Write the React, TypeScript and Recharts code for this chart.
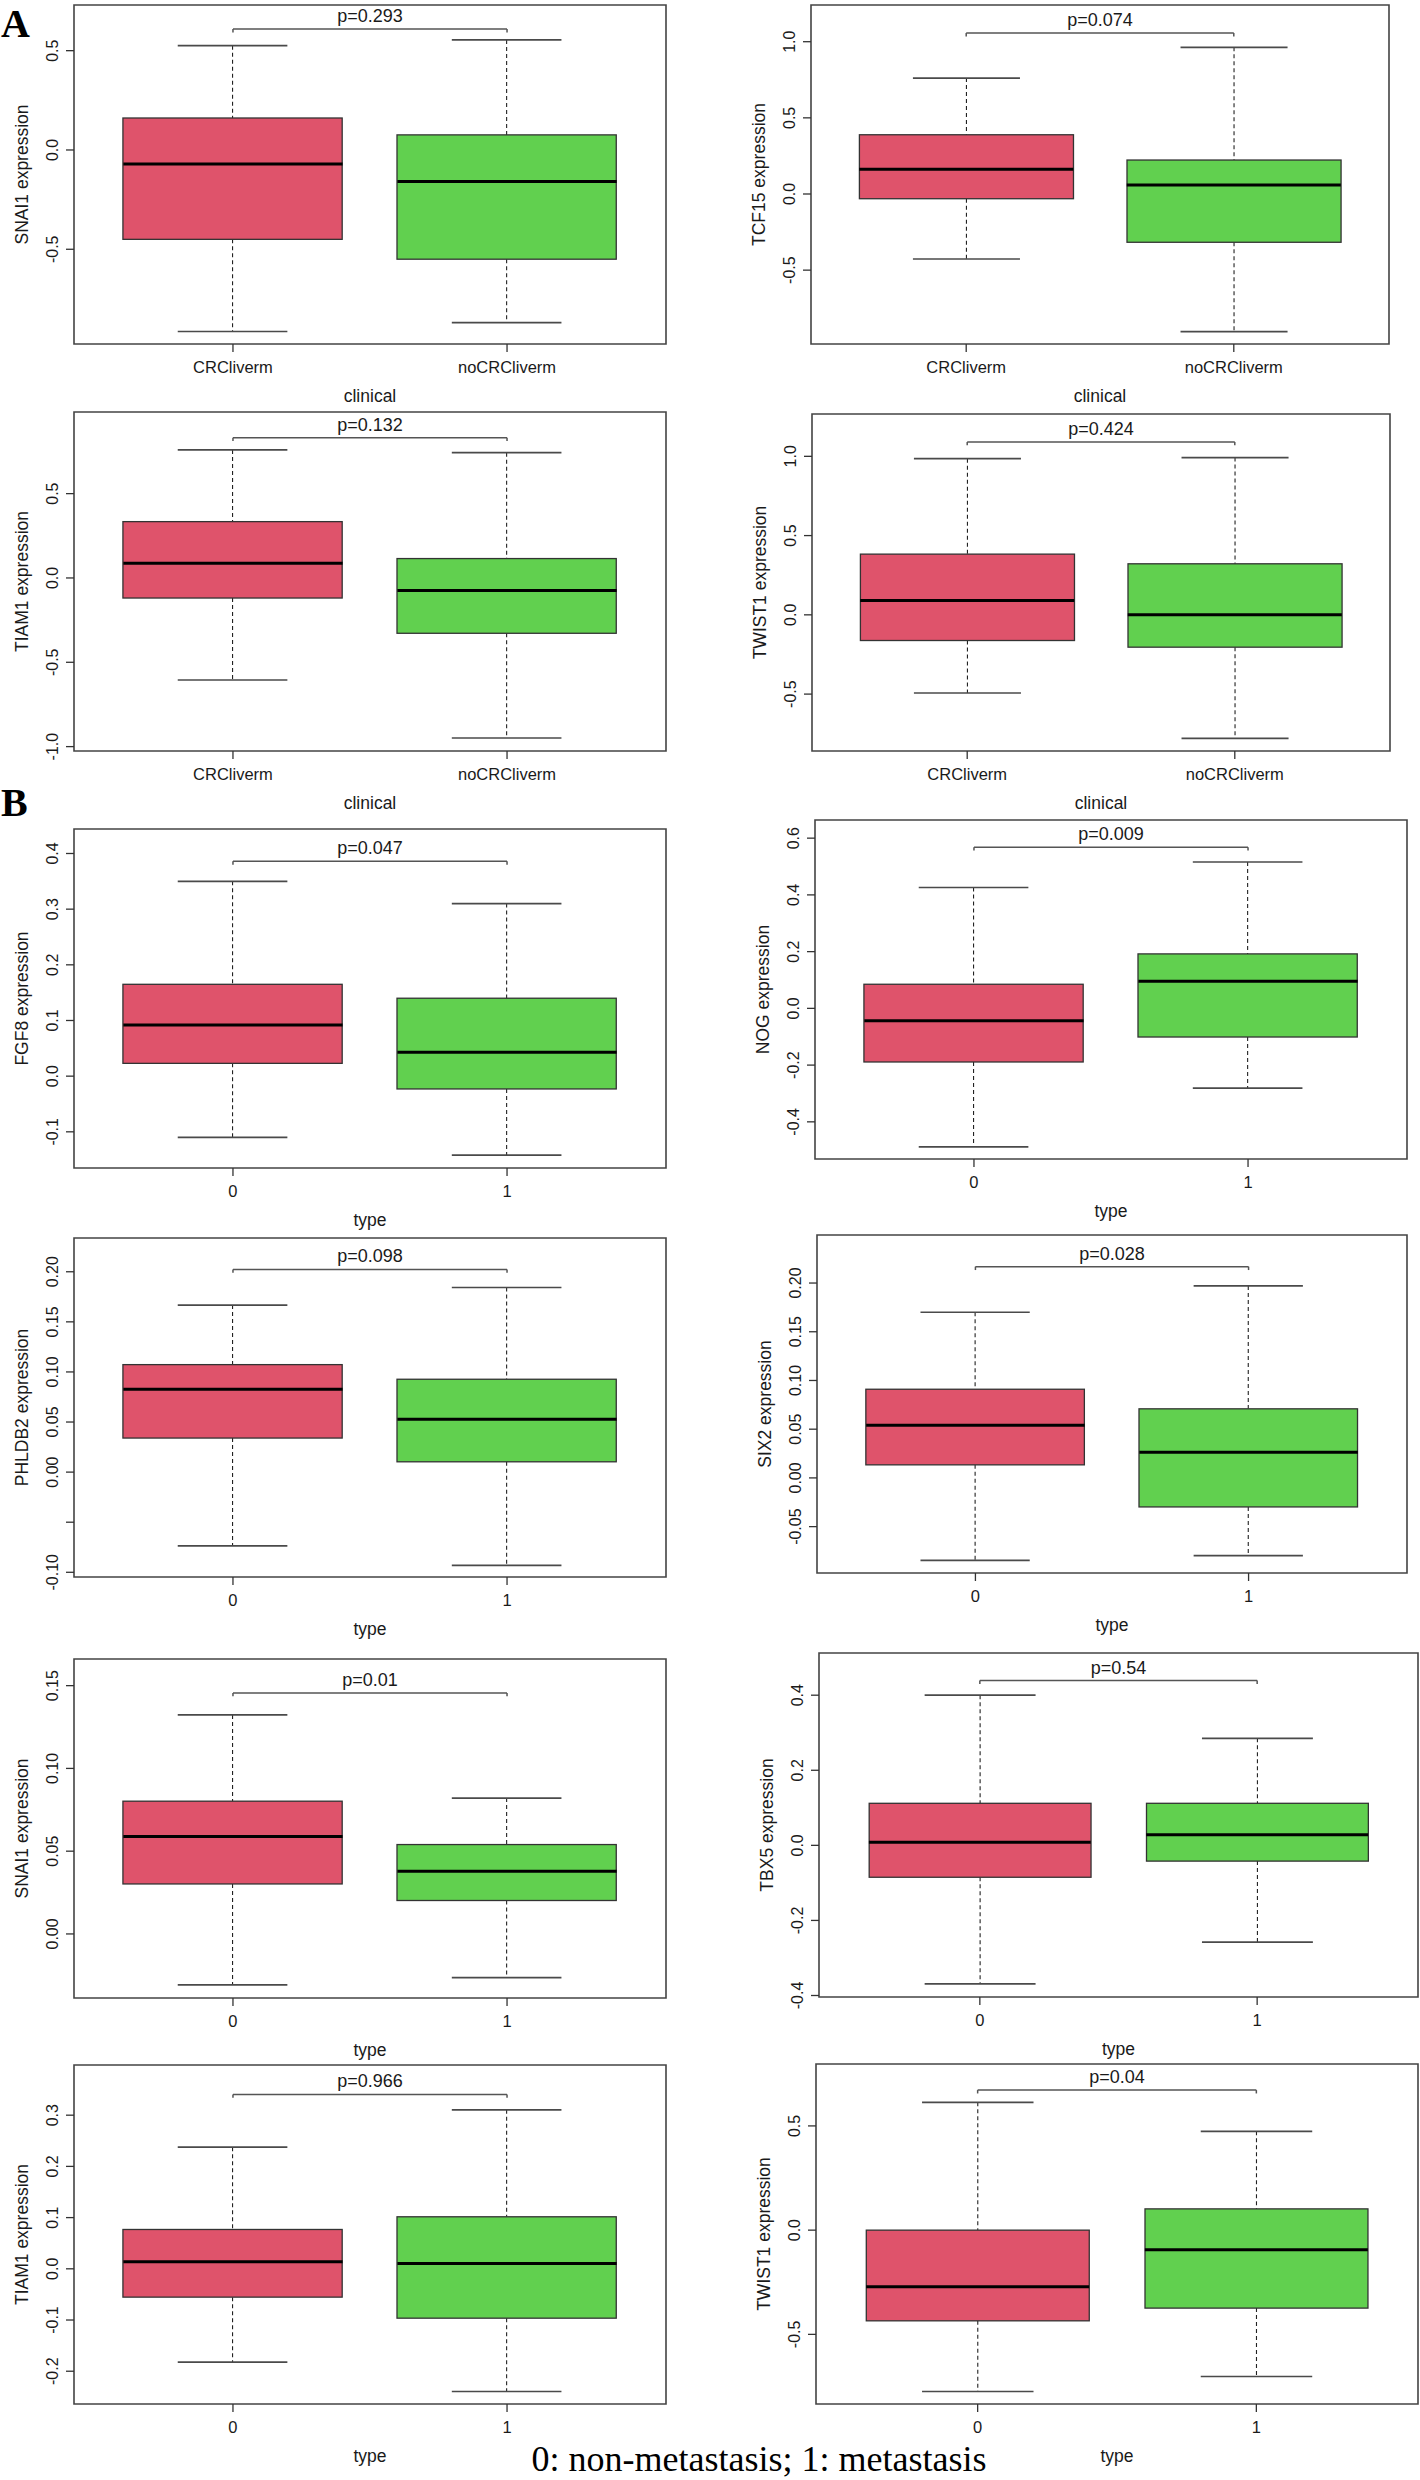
import React from "react";
import {
  ComposedChart,
  Bar,
  Scatter,
  XAxis,
  YAxis,
  ReferenceArea,
  ReferenceLine,
} from "recharts";

// ---- data ----
const genes = ["SNAI1", "TCF15", "TIAM1", "TWIST1", "FGF8", "NOG", "PHLDB2", "SIX2", "SNAI1", "TBX5", "TIAM1", "TWIST1"];
const clinicalGroups = ["CRCliverm", "noCRCliverm"];
const typeGroups = ["0", "1"];
const xTitles = ["clinical", "clinical", "clinical", "clinical", "type", "type", "type", "type", "type", "type", "type", "type"];
const pValues = ["0.293", "0.074", "0.132", "0.424", "0.047", "0.009", "0.098", "0.028", "0.01", "0.54", "0.966", "0.04"];

const upperWhisker = [[0.525, 0.554], [0.761, 0.963], [0.759, 0.743], [0.985, 0.992], [0.35, 0.31], [0.426, 0.516], [0.1667, 0.1843], [0.17, 0.197], [0.1323, 0.0821], [0.4, 0.285], [0.2376, 0.3105], [0.613, 0.474]];
const upperHinge = [[0.161, 0.076], [0.389, 0.223], [0.334, 0.115], [0.383, 0.322], [0.165, 0.14], [0.085, 0.192], [0.1073, 0.0927], [0.091, 0.0709], [0.0802, 0.054], [0.112, 0.112], [0.0768, 0.1016], [0.0, 0.102]];
const medians = [[-0.07, -0.159], [0.162, 0.059], [0.087, -0.075], [0.091, 0.0], [0.092, 0.043], [-0.044, 0.096], [0.0827, 0.0527], [0.054, 0.0264], [0.0589, 0.0379], [0.008, 0.028], [0.0137, 0.0104], [-0.272, -0.094]];
const lowerHinge = [[-0.45, -0.55], [-0.031, -0.317], [-0.119, -0.328], [-0.162, -0.204], [0.023, -0.023], [-0.189, -0.101], [0.034, 0.0103], [0.0134, -0.0298], [0.0302, 0.0202], [-0.085, -0.042], [-0.0553, -0.0964], [-0.435, -0.374]];
const lowerWhisker = [[-0.914, -0.869], [-0.427, -0.904], [-0.605, -0.949], [-0.493, -0.779], [-0.11, -0.142], [-0.488, -0.281], [-0.0737, -0.093], [-0.0846, -0.0798], [-0.0308, -0.0264], [-0.369, -0.258], [-0.1823, -0.2396], [-0.774, -0.702]];
const bracketLevel = [0.609, 1.057, 0.832, 1.091, 0.386, 0.568, 0.2023, 0.2168, 0.1456, 0.439, 0.3405, 0.672];

const yDomains = [[-0.977, 0.73], [-0.985, 1.241], [-1.026, 0.984], [-0.859, 1.267], [-0.165, 0.444], [-0.531, 0.664], [-0.1047, 0.2337], [-0.0976, 0.2493], [-0.0387, 0.1661], [-0.404, 0.5124], [-0.264, 0.398], [-0.834, 0.797]];
const yTicks = [
  [-0.5, 0, 0.5], [-0.5, 0, 0.5, 1], [-1, -0.5, 0, 0.5], [-0.5, 0, 0.5, 1],
  [-0.1, 0, 0.1, 0.2, 0.3, 0.4], [-0.4, -0.2, 0, 0.2, 0.4, 0.6],
  [-0.1, -0.05, 0, 0.05, 0.1, 0.15, 0.2], [-0.05, 0, 0.05, 0.1, 0.15, 0.2],
  [0, 0.05, 0.1, 0.15], [-0.4, -0.2, 0, 0.2, 0.4],
  [-0.2, -0.1, 0, 0.1, 0.2, 0.3], [-0.5, 0, 0.5],
];
const yTickLabels = [
  ["-0.5", "0.0", "0.5"], ["-0.5", "0.0", "0.5", "1.0"], ["-1.0", "-0.5", "0.0", "0.5"], ["-0.5", "0.0", "0.5", "1.0"],
  ["-0.1", "0.0", "0.1", "0.2", "0.3", "0.4"], ["-0.4", "-0.2", "0.0", "0.2", "0.4", "0.6"],
  ["-0.10", "", "0.00", "0.05", "0.10", "0.15", "0.20"], ["-0.05", "0.00", "0.05", "0.10", "0.15", "0.20"],
  ["0.00", "0.05", "0.10", "0.15"], ["-0.4", "-0.2", "0.0", "0.2", "0.4"],
  ["-0.2", "-0.1", "0.0", "0.1", "0.2", "0.3"], ["-0.5", "0.0", "0.5"],
];

// ---- layout: plot frame of each panel [left, top, right, bottom] ----
const frames = [
  [74, 5, 666, 344], [811, 5, 1389, 344],
  [74, 412, 666, 751], [812, 414, 1390, 751],
  [74, 829, 666, 1168], [815, 820, 1407, 1159],
  [74, 1238, 666, 1577], [817, 1235, 1407, 1573],
  [74, 1659, 666, 1998], [819, 1653, 1418, 1997],
  [74, 2065, 666, 2404], [816, 2064, 1418, 2404],
];

const xLim: [number, number] = [0.42, 2.58];
const fills = ["#DF536B", "#61D04F"];
const ink = "#1a1a1a";
const font = "'Liberation Sans', Arial, Helvetica, sans-serif";

const Whisker = (props: any) => {
  const { x, y, width, height, end } = props;
  if (x == null || y == null) return null;
  const cx = x + width / 2;
  const top = Math.min(y, y + height);
  const bot = Math.max(y, y + height);
  const capY = end === "top" ? top : bot;
  const half = width / 4;
  return (
    <g>
      <line x1={cx} x2={cx} y1={top} y2={bot} stroke="#222" strokeWidth={1.1} strokeDasharray="4 3" />
      <line x1={cx - half} x2={cx + half} y1={capY} y2={capY} stroke="#4a4a4a" strokeWidth={1.7} />
    </g>
  );
};

const BoxShape = (props: any) => {
  const { x, y, width, height, payload } = props;
  if (x == null || y == null) return null;
  const top = Math.min(y, y + height);
  return (
    <rect x={x} y={top} width={width} height={Math.abs(height)} fill={payload.fill} stroke="#333" strokeWidth={1.3} />
  );
};

const MedianShape = (props: any) => {
  const { cx, cy, w } = props;
  if (cx == null || cy == null) return null;
  return <line x1={cx - w / 2} x2={cx + w / 2} y1={cy} y2={cy} stroke="#000" strokeWidth={3} />;
};

const YTick = (props: any) => {
  const { x, y, payload, values, labels } = props;
  const i = values.indexOf(payload.value);
  const text = i >= 0 ? labels[i] : "";
  const bx = x - 8;
  return (
    <text x={bx} y={y} transform={`rotate(-90 ${bx} ${y})`} textAnchor="middle" fontSize={16} fill={ink} fontFamily={font}>
      {text}
    </text>
  );
};

const XTick = (props: any) => {
  const { x, y, payload, cats } = props;
  return (
    <text x={x} y={y + 21} textAnchor="middle" fontSize={16.5} fill={ink} fontFamily={font}>
      {cats[payload.value - 1]}
    </text>
  );
};

const YTitle = (props: any) => {
  const { viewBox, text } = props;
  if (!viewBox) return null;
  const bx = viewBox.x + viewBox.width - 46;
  const cy = viewBox.y + viewBox.height / 2;
  return (
    <text x={bx} y={cy} transform={`rotate(-90 ${bx} ${cy})`} textAnchor="middle" fontSize={17.5} fill={ink} fontFamily={font}>
      {text}
    </text>
  );
};

const XTitle = (props: any) => {
  const { viewBox, text } = props;
  if (!viewBox) return null;
  return (
    <text x={viewBox.x + viewBox.width / 2} y={viewBox.y + 58} textAnchor="middle" fontSize={17.5} fill={ink} fontFamily={font}>
      {text}
    </text>
  );
};

const PLabel = (props: any) => {
  const { viewBox, text } = props;
  if (!viewBox) return null;
  return (
    <text x={viewBox.x + viewBox.width / 2} y={viewBox.y - 7} textAnchor="middle" fontSize={18} fill={ink} fontFamily={font}>
      {text}
    </text>
  );
};

function BoxPanel({ idx }: { idx: number }) {
  const [fx0, fy0, fx1, fy1] = frames[idx];
  const axisW = 80;
  const topPad = 4;
  const xAxisH = 70;
  const plotW = fx1 - fx0;
  const plotH = fy1 - fy0;
  const boxPx = (plotW / (xLim[1] - xLim[0])) * 0.8;
  const cats = idx < 4 ? clinicalGroups : typeGroups;
  const dom = yDomains[idx] as [number, number];
  const b = bracketLevel[idx];
  const stub = (dom[1] - dom[0]) * 0.01;

  const rows = cats.map((name, i) => ({
    pos: i + 1,
    name,
    upper: [upperHinge[idx][i], upperWhisker[idx][i]],
    lower: [lowerWhisker[idx][i], lowerHinge[idx][i]],
    box: [lowerHinge[idx][i], upperHinge[idx][i]],
    med: medians[idx][i],
    fill: fills[i],
  }));

  return (
    <div style={{ position: "absolute", left: fx0 - axisW, top: fy0 - topPad }}>
      <ComposedChart
        width={plotW + axisW + 2}
        height={plotH + topPad + xAxisH}
        data={rows}
        margin={{ top: topPad, right: 2, bottom: 0, left: 0 }}
      >
        <XAxis
          xAxisId="main"
          type="number"
          dataKey="pos"
          domain={xLim}
          ticks={[1, 2]}
          interval={0}
          allowDataOverflow
          axisLine={false}
          tickSize={8}
          tickMargin={0}
          height={xAxisH}
          tickLine={{ stroke: "#333", strokeWidth: 1.3 }}
          tick={<XTick cats={cats} />}
          label={<XTitle text={xTitles[idx]} />}
        />
        <XAxis xAxisId="up" type="number" dataKey="pos" domain={xLim} ticks={[1, 2]} allowDataOverflow hide height={0} />
        <XAxis xAxisId="low" type="number" dataKey="pos" domain={xLim} ticks={[1, 2]} allowDataOverflow hide height={0} />
        <YAxis
          type="number"
          domain={dom}
          ticks={yTicks[idx]}
          interval={0}
          allowDataOverflow
          width={axisW}
          axisLine={false}
          tickSize={8}
          tickMargin={0}
          tickLine={{ stroke: "#333", strokeWidth: 1.3 }}
          tick={<YTick values={yTicks[idx]} labels={yTickLabels[idx]} />}
          label={<YTitle text={`${genes[idx]} expression`} />}
        />
        <Bar xAxisId="up" dataKey="upper" barSize={boxPx} shape={<Whisker end="top" />} isAnimationActive={false} />
        <Bar xAxisId="low" dataKey="lower" barSize={boxPx} shape={<Whisker end="bottom" />} isAnimationActive={false} />
        <Bar xAxisId="main" dataKey="box" barSize={boxPx} shape={<BoxShape />} isAnimationActive={false} />
        <Scatter xAxisId="main" dataKey="med" shape={<MedianShape w={boxPx} />} isAnimationActive={false} />
        <ReferenceArea
          xAxisId="main"
          x1={xLim[0]}
          x2={xLim[1]}
          y1={dom[0]}
          y2={dom[1]}
          fill="none"
          stroke="#444"
          strokeWidth={1.6}
        />
        <ReferenceLine
          xAxisId="main"
          segment={[{ x: 1, y: b }, { x: 2, y: b }]}
          stroke="#555"
          strokeWidth={1.5}
          label={<PLabel text={`p=${pValues[idx]}`} />}
        />
        <ReferenceLine xAxisId="main" segment={[{ x: 1, y: b }, { x: 1, y: b - stub }]} stroke="#555" strokeWidth={1.5} />
        <ReferenceLine xAxisId="main" segment={[{ x: 2, y: b }, { x: 2, y: b - stub }]} stroke="#555" strokeWidth={1.5} />
      </ComposedChart>
    </div>
  );
}

export default function App() {
  return (
    <div style={{ position: "absolute", left: 0, top: 0, width: 1420, height: 2480, background: "#fff", overflow: "hidden" }}>
      {genes.map((_, i) => (
        <BoxPanel key={i} idx={i} />
      ))}
      <svg width={1420} height={2480} style={{ position: "absolute", left: 0, top: 0, pointerEvents: "none" }}>
        <text x={1} y={37} fontSize={40} fontWeight="bold" fontFamily="'Liberation Serif', 'Times New Roman', serif" fill="#000">A</text>
        <text x={1} y={816} fontSize={40} fontWeight="bold" fontFamily="'Liberation Serif', 'Times New Roman', serif" fill="#000">B</text>
        <text x={759} y={2471} textAnchor="middle" fontSize={36} fontFamily="'Liberation Serif', 'Times New Roman', serif" fill="#000">
          0: non-metastasis; 1: metastasis
        </text>
      </svg>
    </div>
  );
}
